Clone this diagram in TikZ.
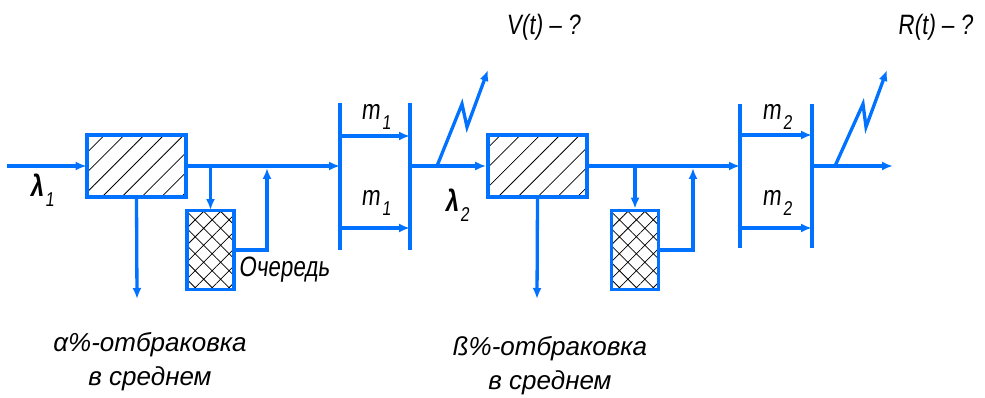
\documentclass[tikz,border=0pt]{standalone}
\usepackage{fontspec}
\setmainfont{Liberation Sans}
\newfontfamily\gost[FakeStretch=0.8,FakeSlant=0.12]{Liberation Sans}
\usetikzlibrary{arrows.meta,patterns.meta,positioning}
\definecolor{lineblue}{RGB}{0,114,255}
\newcommand{\lowidx}[1]{\kern2pt\raisebox{-0.35em}{\fontsize{20}{20}\selectfont\mdseries #1}}

\begin{document}
\begin{tikzpicture}[x=1pt, y=-1pt,
  flow/.style = {draw=lineblue, line width=3.3pt, -{Latex[length=11pt,width=9pt]}},
  bar/.style = {draw=lineblue, line width=3.8pt},
  device/.style = {draw=lineblue, line width=3.6pt, minimum width=99pt, minimum height=62pt, inner sep=0pt, pattern={Lines[angle=45,distance=14pt,line width=0.8pt]}},
  queue/.style = {draw=lineblue, line width=3.6pt, minimum width=47pt, minimum height=79pt, inner sep=0pt, pattern={Hatch[angle=45,distance=12pt,line width=0.8pt]}},
  lbl/.style = {font=\gost\fontsize{28}{28}\selectfont, inner sep=0pt},
  lam/.style = {font=\gost\bfseries\fontsize{30}{30}\selectfont, inner sep=0pt},
  note/.style = {font=\itshape\fontsize{26}{34}\selectfont, align=center, inner sep=0pt}]
  \useasboundingbox (0,0) rectangle (985,398);
  % first stage
  \coordinate (in) at (7,166);
  \node[device] (dev1) at (136.5,166) {};
  \node[queue] (q1) at (210.5,250) {};
  \coordinate (ret1) at (267,168);
  \coordinate (rej1) at (137,299);
  \coordinate (b1lt) at (340,103);
  \coordinate (b1lb) at (340,250);
  \coordinate (b1rt) at (410,103);
  \coordinate (b1rb) at (410,250);
  \coordinate (b1u) at (340,136);
  \coordinate (b1d) at (340,228);
  \coordinate (z1) at (437,166);
  % second stage
  \node[device] (dev2) at (537.5,166) {};
  \node[queue] (q2) at (635,250) {};
  \coordinate (ret2) at (693,168);
  \coordinate (rej2) at (537,299);
  \coordinate (b2lt) at (740,104);
  \coordinate (b2lb) at (740,248);
  \coordinate (b2rt) at (812,104);
  \coordinate (b2rb) at (812,248);
  \coordinate (b2u) at (740,135);
  \coordinate (b2d) at (740,228);
  \coordinate (z2) at (835,166);
  \coordinate (out) at (893,166);

  \draw[flow] (in) -- (dev1.west);
  \draw[flow] (dev1.east) -- (dev1.east -| b1lt);
  \draw[flow] (dev1.south) -- (rej1);
  \draw[flow] (dev1.east -| q1) -- (q1.north);
  \draw[flow] (q1.east) -| (ret1);
  \draw[bar] (b1lt) -- (b1lb);
  \draw[bar] (b1rt) -- (b1rb);
  \draw[flow] (b1u) -- (b1u -| b1rt);
  \draw[flow] (b1d) -- (b1d -| b1rt);
  \draw[flow] (dev2.west -| b1rt) -- (dev2.west);
  \draw[flow] (z1) -- ++(25,-62) -- ++(5,23) -- ++(21,-57);

  \draw[flow] (dev2.east) -- (dev2.east -| b2lt);
  \draw[flow] (dev2.south) -- (rej2);
  \draw[flow] (dev2.east -| q2) -- (q2.north);
  \draw[flow] (q2.east) -| (ret2);
  \draw[bar] (b2lt) -- (b2lb);
  \draw[bar] (b2rt) -- (b2rb);
  \draw[flow] (b2u) -- (b2u -| b2rt);
  \draw[flow] (b2d) -- (b2d -| b2rt);
  \draw[flow] (out -| b2rt) -- (out);
  \draw[flow] (z2) -- ++(28,-62) -- ++(3,23) -- ++(21,-57);

  % labels
  \node[lam] (lam1) at (42,190) {λ\lowidx{1}};
  \node[lam] (lam2) at (457,205) {λ\lowidx{2}};
  \node[lbl] (m1u) at (376,117) {m\lowidx{1}};
  \node[lbl] (m1d) at (376,203) {m\lowidx{1}};
  \node[lbl] (m2u) at (777,117) {m\lowidx{2}};
  \node[lbl] (m2d) at (777,203) {m\lowidx{2}};
  \node[lbl] (que) at (284,270) {Очередь};
  \node[lbl] (vt) at (543,27) {V(t) – ?};
  \node[lbl] (rt) at (935,27) {R(t) – ?};
  \node[note] (rej1txt) at (150,362) {α\%-отбраковка\\в среднем};
  \node[note] (rej2txt) at (550,366) {ß\%-отбраковка\\в среднем};
\end{tikzpicture}
\end{document}
